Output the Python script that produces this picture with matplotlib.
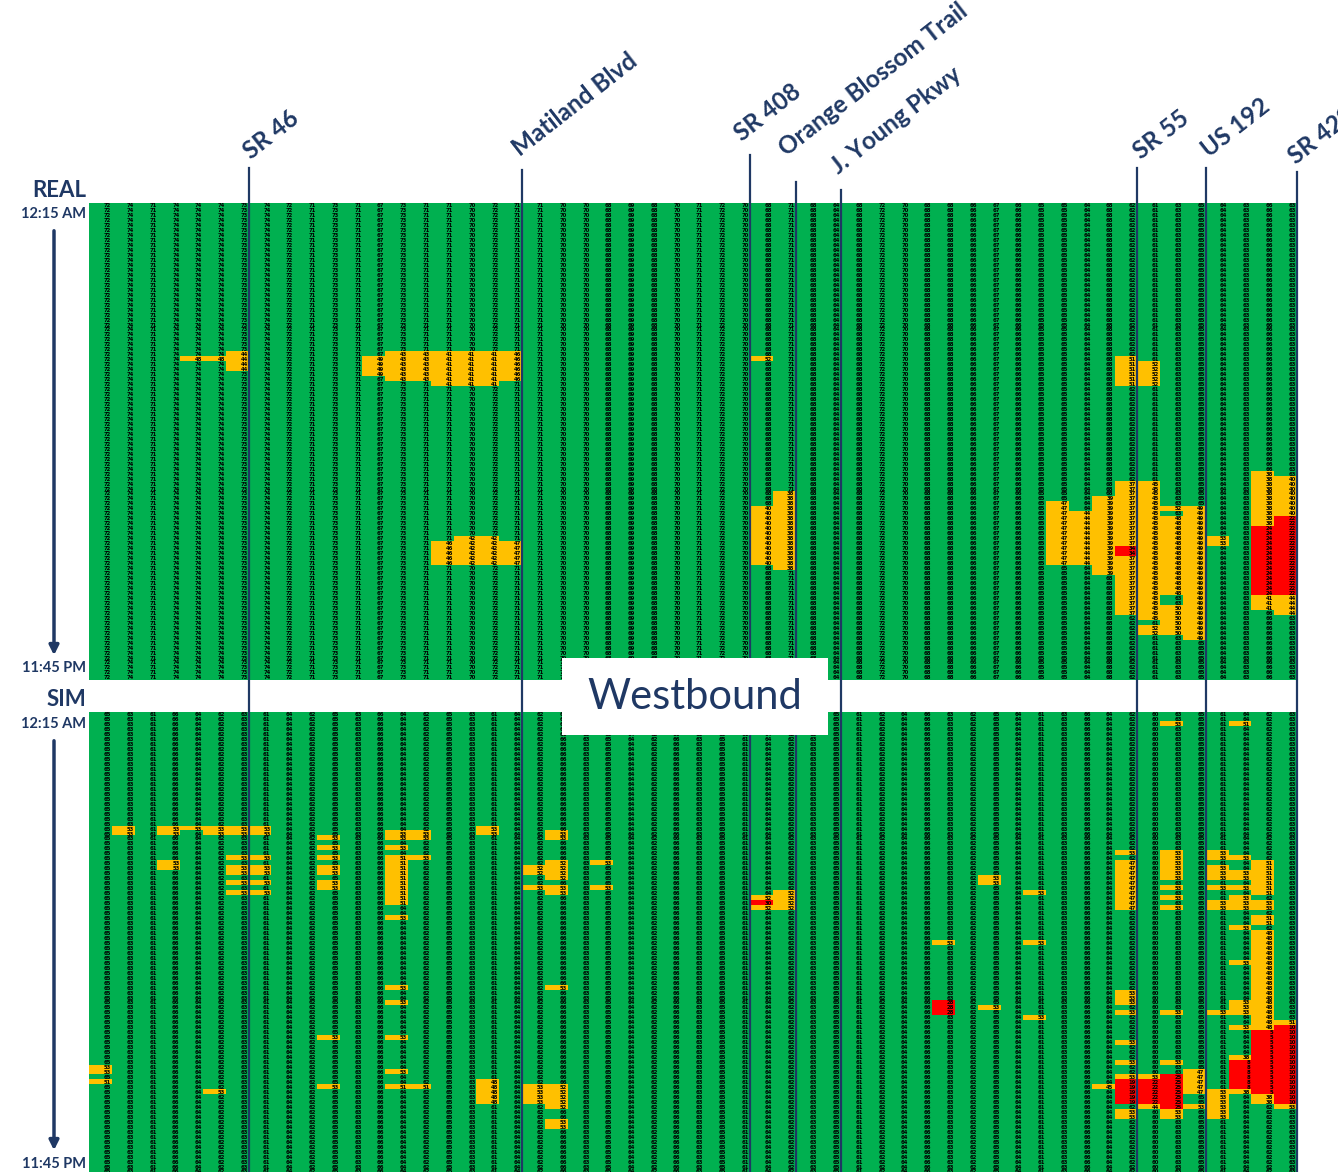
import numpy as np
import matplotlib
matplotlib.use('Agg')
import matplotlib.pyplot as plt
import matplotlib.transforms as mtransforms
from matplotlib.colors import ListedColormap
from matplotlib.lines import Line2D
from matplotlib.patches import Rectangle, FancyArrowPatch

N_ROWS = 96   # 15-min intervals over the day
N_COLS = 53   # detector stations, east -> west

# typical (free flow) speed per station, mph
real_base = [72, 74, 71, 74, 74, 74, 73,
             74, 72, 71, 73, 71, 67, 73, 71, 71, 70, 72, 71,
             71, 70, 70, 68, 69, 68, 70, 71, 72, 70,
             68, 71,
             68, 64,
             68, 72, 70, 68, 68, 66, 67, 66, 65, 65, 64, 68, 62,
             61, 63, 65,
             64, 63, 66, 63]
sim_base = [65, 63, 61, 66, 64, 62, 63,
            61, 64, 62, 65, 63, 66, 64, 62, 65, 63, 61, 64,
            62, 66, 63, 65, 64, 62, 66, 63, 65, 61,
            64, 62,
            63, 65,
            61, 62, 64, 66, 63, 62, 65, 64, 61, 63, 66, 64, 62,
            60, 63, 65,
            61, 64, 62, 63]

# slowdowns: (first col, last col, first row, last row, speed)
real_slow = [(4, 5, 31, 31, 48), (6, 6, 30, 33, 44), (12, 12, 31, 34, 49),
             (13, 14, 30, 35, 43), (15, 17, 30, 36, 41), (18, 18, 30, 35, 46),
             (29, 29, 31, 31, 52), (15, 15, 68, 72, 46), (16, 17, 67, 72, 42),
             (18, 18, 68, 72, 47), (29, 29, 61, 72, 40), (30, 30, 58, 73, 38),
             (45, 45, 31, 36, 51), (46, 46, 32, 36, 52), (42, 42, 60, 72, 47),
             (43, 43, 62, 72, 44), (44, 44, 59, 74, 39), (45, 45, 56, 82, 37),
             (46, 46, 56, 83, 45), (46, 46, 85, 86, 52), (47, 47, 61, 61, 52),
             (47, 47, 63, 78, 48), (47, 47, 81, 86, 50), (48, 48, 61, 87, 49),
             (49, 49, 67, 68, 53), (51, 51, 54, 64, 38), (52, 52, 55, 62, 40),
             (51, 51, 79, 81, 41), (52, 52, 79, 82, 44)]
real_jam = [(45, 45, 69, 70, 34), (51, 51, 65, 78, 24), (52, 52, 63, 78, 22)]

sim_slow = [(1, 1, 23, 24, 53), (3, 3, 23, 24, 53), (4, 4, 23, 23, 53),
            (5, 7, 23, 24, 53), (3, 3, 30, 31, 53), (6, 7, 29, 29, 53),
            (6, 7, 31, 32, 53), (6, 7, 34, 34, 53), (6, 7, 36, 36, 53),
            (10, 10, 25, 25, 53), (10, 10, 27, 27, 53), (10, 10, 29, 29, 53),
            (10, 10, 31, 32, 53), (10, 10, 34, 35, 53), (13, 14, 24, 25, 53),
            (13, 13, 27, 27, 53), (13, 13, 29, 38, 51), (14, 14, 29, 29, 53),
            (13, 13, 41, 41, 53), (17, 17, 23, 24, 53), (19, 19, 31, 32, 52),
            (19, 19, 35, 35, 53), (20, 20, 24, 25, 53), (20, 20, 30, 33, 52),
            (20, 20, 35, 36, 53), (22, 22, 30, 30, 53), (22, 22, 35, 35, 53),
            (29, 29, 37, 39, 52), (30, 30, 36, 39, 52), (37, 37, 46, 46, 53),
            (39, 39, 33, 34, 53), (39, 39, 59, 59, 53), (41, 41, 36, 36, 53),
            (41, 41, 46, 46, 53), (41, 41, 61, 61, 53), (0, 0, 71, 72, 53),
            (0, 0, 74, 74, 51), (5, 5, 76, 76, 53), (10, 10, 65, 65, 53),
            (10, 10, 75, 75, 53), (13, 13, 55, 55, 53), (13, 13, 58, 58, 53),
            (13, 13, 65, 65, 53), (13, 13, 72, 72, 53), (13, 14, 75, 75, 51),
            (17, 17, 74, 78, 48), (19, 19, 75, 78, 53), (20, 20, 75, 79, 52),
            (20, 20, 82, 83, 53), (20, 20, 55, 55, 53),
            (47, 47, 2, 2, 53), (50, 50, 2, 2, 51), (45, 45, 28, 28, 53),
            (45, 45, 30, 39, 47), (47, 47, 28, 33, 53), (47, 47, 35, 35, 53),
            (47, 47, 37, 37, 53), (47, 47, 39, 39, 53), (49, 49, 28, 29, 53),
            (49, 49, 31, 33, 53), (49, 49, 35, 35, 53), (49, 49, 38, 39, 53),
            (50, 50, 29, 29, 53), (50, 50, 32, 33, 53), (50, 50, 35, 35, 53),
            (50, 50, 37, 39, 53), (50, 50, 43, 43, 53), (50, 50, 50, 50, 53),
            (50, 50, 58, 60, 53), (50, 50, 63, 63, 53), (50, 50, 69, 69, 38),
            (50, 50, 76, 76, 38), (51, 51, 30, 36, 51), (51, 51, 38, 39, 53),
            (51, 51, 41, 42, 51), (51, 51, 44, 63, 48), (51, 51, 77, 78, 38),
            (52, 52, 62, 62, 51), (52, 52, 79, 79, 53), (45, 45, 56, 58, 53),
            (45, 45, 60, 60, 53), (45, 45, 66, 66, 53), (45, 45, 70, 70, 53),
            (45, 45, 73, 73, 53), (45, 45, 80, 81, 53), (44, 44, 75, 75, 45),
            (46, 46, 73, 73, 53), (46, 46, 79, 79, 44), (47, 47, 60, 60, 53),
            (47, 47, 70, 70, 53), (47, 47, 80, 81, 53), (48, 48, 72, 76, 47),
            (48, 48, 79, 79, 53), (49, 49, 60, 60, 53), (49, 49, 76, 81, 53)]
sim_jam = [(29, 29, 38, 38, 30), (37, 37, 58, 60, 28), (45, 45, 74, 78, 19),
           (46, 46, 74, 78, 22), (47, 47, 73, 79, 25), (50, 50, 70, 75, 8),
           (51, 51, 64, 76, 5), (52, 52, 63, 78, 10)]

roads = ["SR 46", "Matiland Blvd", "SR 408", "Orange Blossom Trail",
         "J. Young Pkwy", "SR 55", "US 192", "SR 429"]
road_cols = [7, 19, 29, 31, 33, 46, 49, 53]
road_top_px = [168, 170, 155, 182, 190, 168, 168, 172]
# where each rotated name starts, relative to its line (px)
label_dx_px = [2, -2, -8, -9, -3, 4, 3, -1]
label_y_px = [160, 157, 142, 157, 175, 160, 158, 165]

NAVY = '#1F3864'
speed_cmap = ListedColormap(['#FF0000', '#FFC000', '#00B050'])

W, H = 1338, 1172
fig = plt.figure(figsize=(W / 100, H / 100), dpi=100)


def px_rect(x0, y0, x1, y1):
    return [x0 / W, 1 - y1 / H, (x1 - x0) / W, (y1 - y0) / H]


def speed_grid(base, slow, jam):
    grid = np.tile(np.array(base, dtype=float), (N_ROWS, 1))
    for c0, c1, r0, r1, v in slow + jam:
        grid[r0:r1 + 1, c0:c1 + 1] = v
    return grid


def draw_panel(ax, grid):
    cat = np.digitize(grid, [35, 55])
    ax.imshow(cat, cmap=speed_cmap, vmin=0, vmax=2, aspect='auto',
              interpolation='nearest', extent=(0, N_COLS, N_ROWS, 0))
    for r in range(N_ROWS):
        for c in range(N_COLS):
            ax.text(c + 0.95, r + 0.55, '%d' % grid[r, c], ha='right', va='center',
                    fontsize=3.8, fontweight='bold', color='black')
    ax.set_xlim(0, N_COLS)
    ax.set_ylim(N_ROWS, 0)
    ax.axis('off')


ROW_H = 4.97
left, right = 89.5, 1296.8
ax_real = fig.add_axes(px_rect(left, 203, right, 203 + N_ROWS * ROW_H))
ax_sim = fig.add_axes(px_rect(left, 712, right, 712 + N_ROWS * ROW_H))
draw_panel(ax_real, speed_grid(real_base, real_slow, real_jam))
draw_panel(ax_sim, speed_grid(sim_base, sim_slow, sim_jam))

# interchange lines and rotated names
blend = mtransforms.blended_transform_factory(ax_real.transData, fig.transFigure)
for name, col, top, dx, ly in zip(roads, road_cols, road_top_px, label_dx_px, label_y_px):
    fig.add_artist(Line2D([col, col], [1 - top / H, 0], transform=blend,
                          color=NAVY, lw=1.6, zorder=3))
    shift = mtransforms.ScaledTranslation(dx / 100, 0, fig.dpi_scale_trans)
    fig.text(col, 1 - ly / H, name, transform=blend + shift, rotation=38,
             rotation_mode='anchor', ha='left', va='baseline', fontsize=17.5,
             fontweight='bold', color=NAVY, family='Lato', zorder=4)

# direction box over the gap between panels
fig.add_artist(Rectangle((562 / W, 1 - 735 / H), 266 / W, 77 / H, transform=fig.transFigure,
                         facecolor='white', edgecolor='none', zorder=5))
fig.text(695 / W, 1 - 697 / H, 'Westbound', ha='center', va='center', fontsize=30,
         color=NAVY, family='Lato', zorder=6)

# panel titles and time axis
side = dict(ha='right', va='baseline', color=NAVY, family='Lato', fontweight='bold')
fig.text(86 / W, 1 - 197 / H, 'REAL', fontsize=16, **side)
fig.text(86 / W, 1 - 706 / H, 'SIM', fontsize=16, **side)
for y_top, y_bot in [(218, 672), (728, 1168)]:
    fig.text(86 / W, 1 - y_top / H, '12:15 AM', fontsize=10.5, **side)
    fig.text(86 / W, 1 - y_bot / H, '11:45 PM', fontsize=10.5, **side)
for y0, y1 in [(228, 658), (738, 1153)]:
    fig.add_artist(FancyArrowPatch((54 / W, 1 - y0 / H), (54 / W, 1 - y1 / H),
                                   transform=fig.transFigure, arrowstyle='-|>',
                                   mutation_scale=14, lw=2.5, color=NAVY))

fig.savefig('out.png', dpi=100)
